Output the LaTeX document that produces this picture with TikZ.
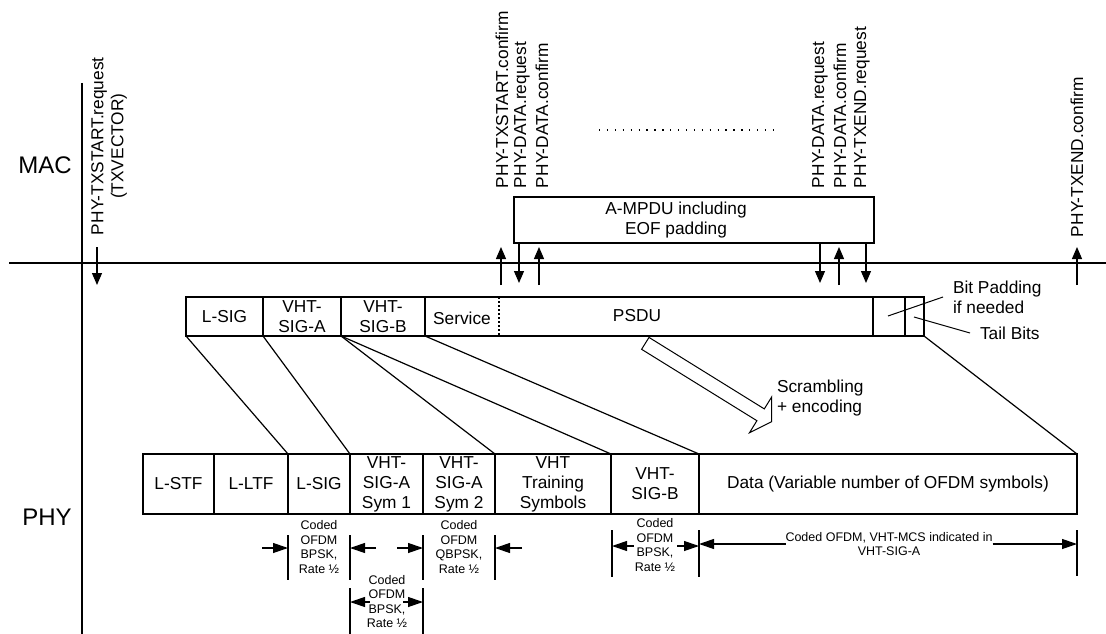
\documentclass[tikz,border=0pt]{standalone}
\usepackage{fontspec}
\setmainfont{Liberation Sans}
\usetikzlibrary{arrows.meta}
\begin{document}
\begin{tikzpicture}[x=1pt,y=-1pt,
  every node/.style={inner sep=0pt, outer sep=0pt, font=\fontsize{17.3}{20}\selectfont},
  seg/.style={draw, line width=1.2pt, align=center},
  lab/.style={rotate=90, anchor=west},
  big/.style={font=\fontsize{24}{28}\selectfont},
  small/.style={font=\fontsize{12.5}{14.5}\selectfont, align=center},
  ln/.style={line width=1.2pt},
  sig/.style={ln, -{Triangle[length=12pt,width=10pt]}},
  dim/.style={ln, -{Triangle[length=15pt,width=10pt]}},
]
\useasboundingbox (0,0) rectangle (1106,634);

% layer lines
\draw[ln] (9,263) -- (1106,263);
\draw[ln] (82,83) -- (82,634);
\node[big] (mac) at (45,165) {MAC};
\node[big] (phy) at (47,517) {PHY};

% MAC primitives
\node[lab, align=center] (txreq) at (109,235) {PHY-TXSTART.request\\(TXVECTOR)};
\node[lab] (txconf) at (502,188) {PHY-TXSTART.confirm};
\node[lab] (dreq1) at (522,188) {PHY-DATA.request};
\node[lab] (dconf1) at (542,188) {PHY-DATA.confirm};
\node[lab] (dreq2) at (820,188) {PHY-DATA.request};
\node[lab] (dconf2) at (840,188) {PHY-DATA.confirm};
\node[lab] (endreq) at (862,188) {PHY-TXEND.request};
\node[lab] (endconf) at (1077,237) {PHY-TXEND.confirm};

\draw[ln, dash pattern=on 1.3pt off 6.6pt] (599,130) -- (778,130);

\node[seg, minimum width=360pt, minimum height=46pt] (ampdu) at (694,220) {};
\node[align=center] (ampdutxt) at (676,220) {A-MPDU including\\EOF padding};

\draw[sig] (97,247) -- (97,285);
\draw[sig] (501,285) -- (501,247);
\draw[sig] (519,243) -- (519,283);
\draw[sig] (539,285) -- (539,247);
\draw[sig] (820,243) -- (820,283);
\draw[sig] (839,285) -- (839,247);
\draw[sig] (866,243) -- (866,283);
\draw[sig] (1077,285) -- (1077,247);

% upper row
\node[seg, minimum width=77pt, minimum height=39pt] (uLSIG) at (224.5,316.5) {L-SIG};
\node[seg, minimum width=78pt, minimum height=39pt] (uSIGA) at (302,316.5) {VHT-\\SIG-A};
\node[seg, minimum width=84pt, minimum height=39pt] (uSIGB) at (383,316.5) {VHT-\\SIG-B};
\node[seg, minimum width=448pt, minimum height=39pt] (uPSDU) at (649,316.5) {};
\node (service) at (462,318) {Service};
\node (psdu) at (637,316) {PSDU};
\coordinate (svc) at (499,297);
\draw[ln, dash pattern=on 2pt off 2pt] (svc) -- ++(0,39);
\node[seg, minimum width=32pt, minimum height=39pt] (uPad) at (889,316.5) {};
\node[seg, minimum width=19pt, minimum height=39pt] (uTail) at (914.5,316.5) {};

\node[align=left, anchor=west] (padtxt) at (953,297) {Bit Padding\\if needed};
\node[anchor=west] (tailtxt) at (980,333) {Tail Bits};
\draw[line width=1pt] (943,297) -- (888,316);
\draw[line width=1pt] (970,333) -- (914,317);

% scrambling arrow
\draw[line width=1pt, fill=white] (649.0,337.4) -- (764.3,408.9) -- (771.7,396.9) -- (771.7,421.7)
  -- (749.5,432.7) -- (756.9,420.7) -- (641.6,349.3) -- cycle;
\node[align=left, anchor=west] (scr) at (777,398.5) {Scrambling\\+ encoding};

% lower row
\node[seg, minimum width=71pt, minimum height=60pt] (lSTF) at (178.5,484) {L-STF};
\node[seg, minimum width=74pt, minimum height=60pt] (lLTF) at (251,484) {L-LTF};
\node[seg, minimum width=62pt, minimum height=60pt] (lSIG) at (319,484) {L-SIG};
\node[seg, minimum width=73pt, minimum height=60pt] (lSym1) at (386.5,484) {VHT-\\SIG-A\\Sym 1};
\node[seg, minimum width=72pt, minimum height=60pt] (lSym2) at (459,484) {VHT-\\SIG-A\\Sym 2};
\node[seg, minimum width=116pt, minimum height=60pt] (lTrain) at (553,484) {VHT\\Training\\Symbols};
\node[seg, minimum width=88pt, minimum height=60pt] (lSIGB) at (655,484) {VHT-\\SIG-B};
\node[seg, minimum width=378pt, minimum height=60pt] (lData) at (888,484) {Data (Variable number of OFDM symbols)};

% mapping lines
\draw[ln] (uLSIG.south west) -- (lSIG.north west);
\draw[ln] (uLSIG.south east) -- (lSym1.north west);
\draw[ln] (uSIGA.south east) -- (lTrain.north west);
\draw[ln] (uSIGA.south east) -- (lSIGB.north west);
\draw[ln] (uSIGB.south east) -- (lData.north west);
\draw[ln] (uTail.south east) -- (lData.north east);

% dimension annotations
\node[small] (dLSIG) at (319,547) {Coded\\OFDM\\BPSK,\\Rate ½};
\draw[ln] (288,535) -- (288,580);
\draw[ln] (350,535) -- (350,580);
\draw[dim] (262,548) -- (288,548);
\draw[dim] (376,548) -- (350,548);

\node[small] (dSym2) at (459,547) {Coded\\OFDM\\QBPSK,\\Rate ½};
\draw[ln] (423,535) -- (423,580);
\draw[ln] (495,535) -- (495,580);
\draw[dim] (397,548) -- (423,548);
\draw[dim] (522,548) -- (495,548);

\node[small] (dSym1) at (387,601.5) {Coded\\OFDM\\BPSK,\\Rate ½};
\draw[ln] (350,588) -- (350,634);
\draw[ln] (423,588) -- (423,634);
\draw[dim] (370,602) -- (350,602);
\draw[dim] (403,602) -- (423,602);

\draw[ln] (612,530) -- (612,577);
\draw[ln] (699,530) -- (699,577);
\draw[dim] (634,546) -- (612,546);
\draw[dim] (677,546) -- (699,546);
\node[small, fill=white, inner sep=1pt] (dSIGB) at (655,545) {Coded\\OFDM\\BPSK,\\Rate ½};

\node[small] (dData) at (889,544) {Coded OFDM, VHT-MCS indicated in\\VHT-SIG-A};
\draw[ln] (1077,530) -- (1077,576);
\draw[dim] (dData.west |- 0,544) -- (699,544);
\draw[dim] (dData.east |- 0,544) -- (1077,544);
\end{tikzpicture}
\end{document}
